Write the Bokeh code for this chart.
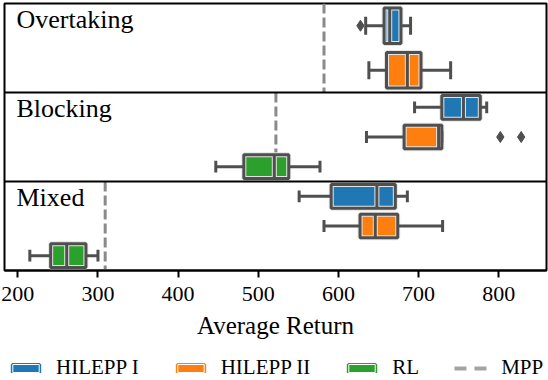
import numpy as np
from bokeh.plotting import figure
from bokeh.layouts import column
from bokeh.models import Range1d, Span, Label, Legend, LegendItem, FixedTicker
from bokeh.embed import file_html
from bokeh.resources import INLINE

# ---------------- data ----------------
scenarios = ["Overtaking", "Blocking", "Mixed"]
methods = ["HILEPP I", "HILEPP II", "RL"]
method_colors = ["#1f77b4", "#ff7f0e", "#2ca02c"]
scenario_methods = {
    "Overtaking": ["HILEPP I", "HILEPP II"],
    "Blocking": ["HILEPP I", "HILEPP II", "RL"],
    "Mixed": ["HILEPP I", "HILEPP II", "RL"],
}

box_scenario = ["Overtaking", "Overtaking", "Blocking", "Blocking", "Blocking", "Mixed", "Mixed", "Mixed"]
box_method = ["HILEPP I", "HILEPP II", "HILEPP I", "HILEPP II", "RL", "HILEPP I", "HILEPP II", "RL"]
whisker_low = [634, 638, 695, 635, 447, 551, 582, 215]
q1 = [657, 660, 729, 682, 482, 591, 627, 241]
median = [664, 686, 756, 725, 520, 648, 646, 261]
q3 = [678, 703, 777, 729, 538, 671, 674, 285]
whisker_high = [690, 740, 785, 729, 577, 686, 730, 300]

outlier_scenario = ["Overtaking", "Blocking", "Blocking"]
outlier_method = ["HILEPP I", "HILEPP II", "HILEPP II"]
outlier_value = [627.5, 802, 828]

mpp_value = [582, 522, 309]
xticks = [200, 300, 400, 500, 600, 700, 800]

# ---------------- styles ----------------
FONT = "Liberation Serif"
DARK = "#4f4f4f"
LIGHT = "#e4e4e4"
MPP_COLOR = "#8a8a8a"


def slot(scen, meth):
    i = scenarios.index(scen)
    ms = scenario_methods[scen]
    n = len(ms)
    return i + (ms.index(meth) + 0.5) / n, 1.0 / n


yc, sh = zip(*[slot(s, m) for s, m in zip(box_scenario, box_method)])
yc = np.array(yc)
sh = np.array(sh)
box_half = 0.4 * sh
cap_half = 0.2 * sh
fill = [method_colors[methods.index(m)] for m in box_method]

p = figure(width=548, height=350, output_backend="svg", toolbar_location=None,
           x_range=Range1d(183.4, 859.6), y_range=Range1d(3, 0),
           y_axis_location=None, min_border_left=4, min_border_right=2,
           min_border_top=3, min_border_bottom=80)
p.xgrid.visible = False
p.ygrid.visible = False
p.outline_line_color = "black"
p.outline_line_width = 2
p.background_fill_color = "white"
p.border_fill_color = "white"

# panel separators
for k in range(1, len(scenarios)):
    p.add_layout(Span(location=k, dimension="width", line_color="black", line_width=2))

# MPP dashed lines per panel
pidx = np.arange(len(scenarios))
p.segment(x0=mpp_value, y0=pidx, x1=mpp_value, y1=pidx + 1,
          line_color=MPP_COLOR, line_width=3, line_dash="10 4")

# box fill with light inner edge
p.quad(left=q1, right=q3, top=yc - box_half, bottom=yc + box_half,
       fill_color=fill, line_color=LIGHT, line_width=5)
# whiskers
p.segment(x0=whisker_low, y0=yc, x1=q1, y1=yc, line_color=DARK, line_width=3)
p.segment(x0=q3, y0=yc, x1=whisker_high, y1=yc, line_color=DARK, line_width=3)
# caps
p.segment(x0=whisker_low, y0=yc - cap_half, x1=whisker_low, y1=yc + cap_half, line_color=DARK, line_width=3)
p.segment(x0=whisker_high, y0=yc - cap_half, x1=whisker_high, y1=yc + cap_half, line_color=DARK, line_width=3)
# median (light halo then dark)
p.segment(x0=median, y0=yc - box_half, x1=median, y1=yc + box_half, line_color=LIGHT, line_width=5)
p.segment(x0=median, y0=yc - box_half, x1=median, y1=yc + box_half, line_color=DARK, line_width=3)
# dark outline
p.quad(left=q1, right=q3, top=yc - box_half, bottom=yc + box_half,
       fill_alpha=0, line_color=DARK, line_width=3)

# outliers
oy = [slot(s, m)[0] for s, m in zip(outlier_scenario, outlier_method)]
p.scatter(x=outlier_value, y=oy, marker="diamond", size=11, fill_color=DARK, line_color=DARK)

# panel titles
for i, s in enumerate(scenarios):
    p.add_layout(Label(x=p.x_range.start, y=i, x_offset=12, y_offset=-1, text=s,
                       text_baseline="top", text_font=FONT, text_font_size="26px",
                       text_color="black"))

# x axis
ax = p.xaxis[0]
ax.ticker = FixedTicker(ticks=xticks)
ax.minor_tick_line_color = None
ax.major_tick_in = 0
ax.major_tick_out = 7
ax.major_tick_line_width = 2
ax.major_tick_line_color = "black"
ax.axis_line_width = 2
ax.axis_line_color = "black"
ax.major_label_text_font = FONT
ax.major_label_text_font_size = "22px"
ax.major_label_text_color = "black"
ax.major_label_standoff = 9
ax.axis_label = "Average Return"
ax.axis_label_text_font = FONT
ax.axis_label_text_font_style = "normal"
ax.axis_label_text_font_size = "25px"
ax.axis_label_text_color = "black"
ax.axis_label_standoff = 8

# ---------------- legend strip ----------------
lf = figure(width=548, height=30, output_backend="svg", toolbar_location=None,
            x_range=Range1d(0, 1), y_range=Range1d(0, 1),
            x_axis_location=None, y_axis_location=None, min_border=0,
            outline_line_color=None)
lf.xgrid.visible = False
lf.ygrid.visible = False
lf.background_fill_color = "white"
lf.border_fill_color = "white"

items = []
for m, c in zip(methods, method_colors):
    k = box_method.index(m)
    r1 = lf.quad(left=[q1[k]], right=[q3[k]], top=[1], bottom=[0],
                 fill_color=c, line_color=c, line_width=4, visible=False)
    r2 = lf.quad(left=[q1[k]], right=[q3[k]], top=[1], bottom=[0],
                 fill_alpha=0, line_color="white", line_width=1, visible=False)
    items.append(LegendItem(label=m, renderers=[r1, r2]))
rl = lf.line(x=[mpp_value[0], mpp_value[0]], y=[0, 1], line_color="#a3a3a3", line_width=4,
             line_dash="12 8", visible=False)
items.append(LegendItem(label="MPP", renderers=[rl]))

legend = Legend(items=items, orientation="horizontal", location=(5, 0),
                glyph_width=33, glyph_height=10, label_standoff=14, spacing=35,
                padding=0, margin=0, border_line_color=None, background_fill_alpha=0,
                label_text_font=FONT, label_text_font_size="21px", label_text_color="black",
                click_policy="none")
lf.add_layout(legend)

layout = column(p, lf, spacing=0)
open("out.html", "w").write(file_html(layout, INLINE))
